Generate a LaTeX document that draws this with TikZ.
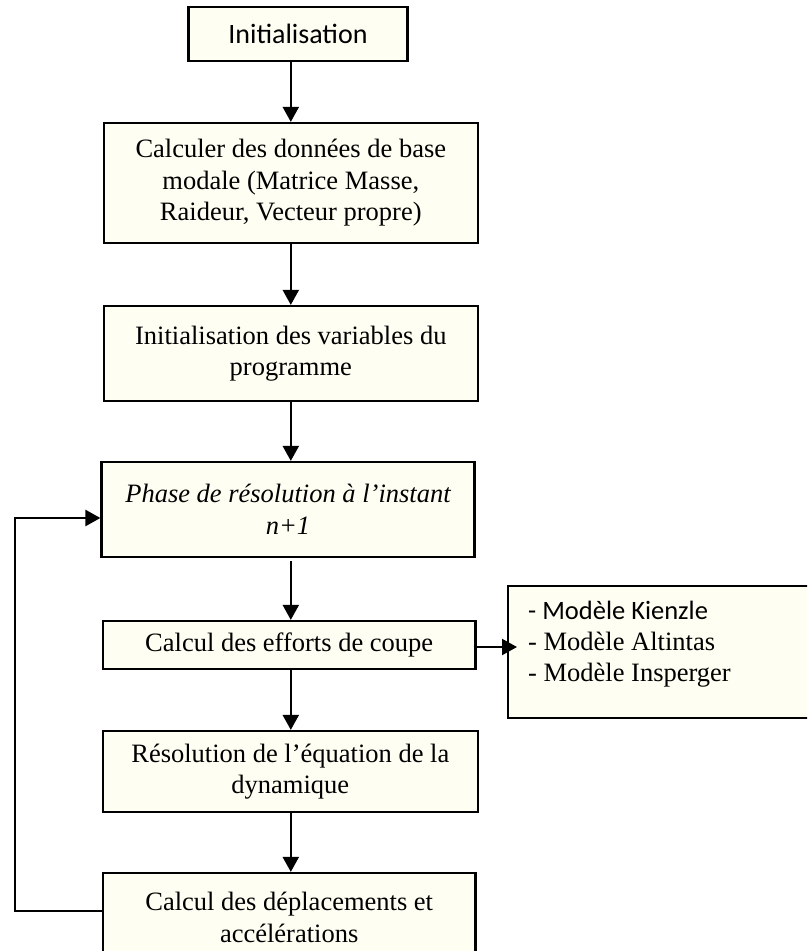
\documentclass[tikz,border=0pt]{standalone}
\usepackage{fontspec}
\setmainfont{Liberation Serif}
\newfontfamily\calib{Carlito}
\usetikzlibrary{arrows.meta}
\definecolor{cream}{RGB}{254,254,242}
\begin{document}
\begin{tikzpicture}[x=1pt,y=1pt,
  box/.style={draw=black, fill=cream, line width=2.2pt, align=center, inner sep=0pt,
              font=\fontsize{26.5}{31.5}\selectfont},
  arr/.style={line width=2.2pt, -{Triangle[length=15pt,width=16pt]}}]
\clip (0,0) rectangle (807,-951);
\fill[white] (0,0) rectangle (807,-951);
\node[box, minimum width=219pt, minimum height=54pt, font=\calib\fontsize{28}{32}\selectfont] (b1) at (298,-34) {Initialisation};
\node[box, minimum width=373.6pt, minimum height=120pt] (b2) at (290.8,-183)
  {Calculer des données de base\\modale (Matrice Masse,\\Raideur, Vecteur propre)};
\node[box, minimum width=373.6pt, minimum height=95pt] (b3) at (290.8,-353.5)
  {Initialisation des variables du\\programme};
\node[box, minimum width=373pt, minimum height=95pt, font=\itshape\fontsize{26.5}{31.5}\selectfont] (b4) at (288,-509.5)
  {Phase de résolution à l’instant\\n+1};
\node[box, minimum width=372.5pt, minimum height=48pt] (b5) at (289.2,-645)
  {Calcul des efforts de coupe};
\node[box, anchor=north west, minimum width=330pt, minimum height=132pt] (b6) at (507,-585) {};
\node[anchor=west, align=left, inner sep=0pt, font=\fontsize{26.5}{31}\selectfont] (m) at (528,-644)
  {{\calib - Modèle Kienzle}\\- Modèle Altintas\\- Modèle Insperger};
\node[box, minimum width=374.6pt, minimum height=81pt] (b7) at (290.3,-771.5)
  {Résolution de l’équation de la\\dynamique};
\node[box, minimum width=372.5pt, minimum height=89pt] (b8) at (289.2,-917.5)
  {Calcul des déplacements et\\accélérations};
\draw[arr] (b1.south -| b2.north) -- (b2.north);
\draw[arr] (b2.south) -- (b3.north);
\draw[arr] (b3.south) -- (b3.south |- b4.north);
\draw[arr] ([yshift=-3pt]b4.south -| b3.south) -- (b3.south |- b5.north);
\draw[arr] (b5.south -| b3.south) -- (b3.south |- b7.north);
\draw[arr] (b7.south -| b3.south) -- (b3.south |- b8.north);
\draw[arr] ([xshift=-3pt,yshift=-2pt]b5.east) -- ([xshift=10pt,yshift=-2pt]b5.east -| b6.west);
\coordinate (lb) at (15,-911);
\coordinate (lt) at (15,-518);
\draw[arr, line width=2.5pt] (b8.west |- lb) -- (lb) -- (lt) -- (lt -| b4.west);
\end{tikzpicture}
\end{document}
